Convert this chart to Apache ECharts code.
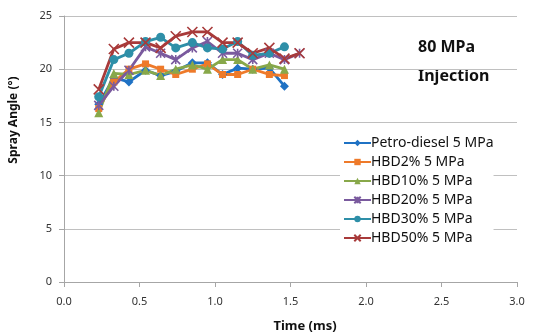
<!DOCTYPE html>
<html>
<head>
<meta charset="utf-8">
<script src="https://cdn.jsdelivr.net/npm/echarts@6/dist/echarts.min.js"></script>
<style>
  html, body { margin: 0; padding: 0; background: #fff; }
  #main { width: 536px; height: 334px; }
</style>
</head>
<body>
<div id="main"></div>
<script>
// time stamps (ms), shared by every series
var times = [0.23, 0.33, 0.43, 0.54, 0.64, 0.74, 0.85, 0.95, 1.05, 1.15, 1.25, 1.36, 1.46, 1.56];

var names = ['Petro-diesel 5 MPa', 'HBD2% 5 MPa', 'HBD10% 5 MPa', 'HBD20% 5 MPa', 'HBD30% 5 MPa', 'HBD50% 5 MPa'];

var petro = [16.7, 19.2, 18.8, 19.9, 19.4, 19.8, 20.6, 20.6, 19.5, 20.1, 20.0, 20.1, 18.4];
var hbd2  = [16.3, 18.8, 20.0, 20.5, 20.0, 19.5, 20.0, 20.5, 19.5, 19.5, 20.0, 19.5, 19.4];
var hbd10 = [15.9, 19.6, 19.5, 19.9, 19.4, 20.0, 20.4, 20.0, 20.9, 20.9, 20.0, 20.4, 20.0];
var hbd20 = [16.6, 18.4, 19.9, 22.1, 21.5, 20.9, 22.0, 22.6, 21.5, 21.5, 20.9, 21.5, 20.9, 21.5];
var hbd30 = [17.4, 20.9, 21.5, 22.6, 23.0, 22.0, 22.5, 22.0, 21.9, 22.6, 21.3, 21.5, 22.1];
var hbd50 = [18.1, 21.9, 22.5, 22.5, 22.0, 23.1, 23.5, 23.5, 22.5, 22.5, 21.5, 22.0, 21.0, 21.5];

var xTicks = ['0.0', '0.5', '1.0', '1.5', '2.0', '2.5', '3.0'];

var colors = ['#1f72c4', '#ee7a2a', '#88a84a', '#7a5a9e', '#2e8fa8', '#a83a3a'];

function pairs(vals) {
  return vals.map(function (v, i) { return [times[i], v]; });
}

function makeSeries(name, vals, color, symbol, size, stroke) {
  return {
    name: name,
    type: 'line',
    data: pairs(vals),
    symbol: symbol,
    symbolSize: size,
    showAllSymbol: true,
    lineStyle: { color: color, width: 2.8 },
    itemStyle: stroke
      ? { color: color, borderColor: color, borderWidth: 1.6 }
      : { color: color },
    emphasis: { disabled: true }
  };
}

var chart = echarts.init(document.getElementById('main'));
var font = '"Noto Sans", "DejaVu Sans", sans-serif';

var option = {
  animation: false,
  textStyle: { fontFamily: font },
  grid: { left: 64, right: 19, top: 16, bottom: 52 },
  legend: {
    orient: 'vertical',
    left: 340,
    top: 136,
    itemWidth: 27,
    itemHeight: 8,
    itemGap: 5,
    backgroundColor: '#fff',
    padding: [0, 0, 0, 3],
    textStyle: { fontSize: 14, lineHeight: 14, color: '#111', fontFamily: font, padding: [0, 0, 0, -5] },
    data: names
  },
  xAxis: {
    type: 'value',
    min: 0, max: 3, interval: 0.5,
    axisLine: { lineStyle: { color: '#a6a6a6' } },
    axisTick: { show: true, length: 5, lineStyle: { color: '#a6a6a6' } },
    splitLine: { show: false },
    axisLabel: {
      fontSize: 11, color: '#333', margin: 14,
      formatter: function (v) { return xTicks[Math.round(v / 0.5)]; }
    }
  },
  yAxis: {
    type: 'value',
    min: 0, max: 25, interval: 5,
    axisLine: { show: true, lineStyle: { color: '#a6a6a6' } },
    axisTick: { show: true, length: 5, lineStyle: { color: '#a6a6a6' } },
    splitLine: { lineStyle: { color: '#c0c0c0' } },
    axisLabel: { fontSize: 11, color: '#333', margin: 12 }
  },
  graphic: [
    {
      type: 'text', left: 418, top: 39,
      style: { text: '80 MPa', fontSize: 16, fontWeight: 'bold', fill: '#111', fontFamily: font }
    },
    {
      type: 'text', left: 418, top: 68,
      style: { text: 'Injection', fontSize: 16, fontWeight: 'bold', fill: '#111', fontFamily: font }
    },
    {
      type: 'text', x: 305, y: 326,
      style: { text: 'Time (ms)', fontSize: 13, fontWeight: 'bold', fill: '#111', fontFamily: font,
               textAlign: 'center', textVerticalAlign: 'middle' }
    },
    {
      type: 'text', x: 14, y: 120, rotation: Math.PI / 2,
      style: { text: 'Spray Angle (°)', fontSize: 12, fontWeight: 'bold', fill: '#111', fontFamily: font,
               textAlign: 'center', textVerticalAlign: 'middle' }
    }
  ],
  series: [
    makeSeries(names[0], petro, colors[0], 'diamond', 9, false),
    makeSeries(names[1], hbd2, colors[1], 'rect', 7, false),
    makeSeries(names[2], hbd10, colors[2], 'triangle', 9, false),
    makeSeries(names[3], hbd20, colors[3], 'path://M5,0L5,10M0,0L10,10M10,0L0,10', 9, true),
    makeSeries(names[4], hbd30, colors[4], 'circle', 9, false),
    makeSeries(names[5], hbd50, colors[5], 'path://M0,0L10,10M10,0L0,10', 10, true)
  ]
};

chart.setOption(option);
</script>
</body>
</html>
